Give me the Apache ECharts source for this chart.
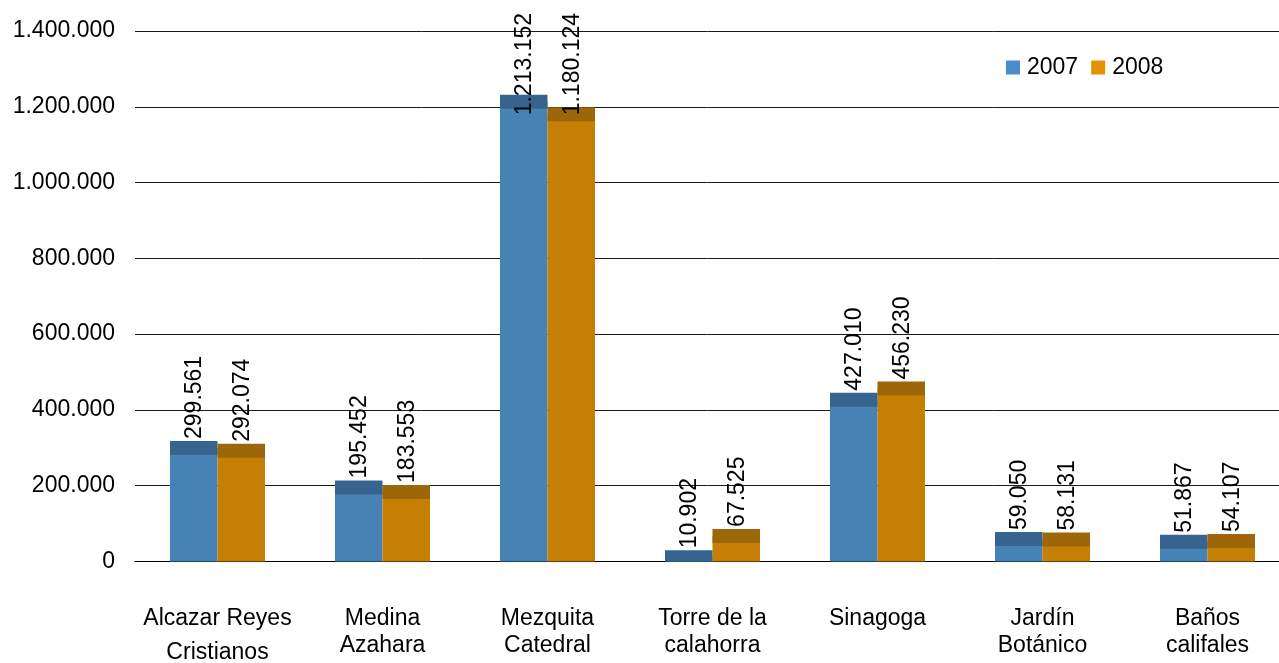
<!DOCTYPE html>
<html>
<head>
<meta charset="utf-8">
<script src="https://cdn.jsdelivr.net/npm/echarts@6/dist/echarts.min.js"></script>
<style>
  html, body { margin: 0; padding: 0; background: #ffffff; }
  #chart { width: 1279px; height: 663px; }
</style>
</head>
<body>
<div id="chart"></div>
<script>
// Visitors per monument, 2007 vs 2008
const categories = [
  'Alcazar Reyes\nCristianos',
  'Medina\nAzahara',
  'Mezquita\nCatedral',
  'Torre de la\ncalahorra',
  'Sinagoga',
  'Jardín\nBotánico',
  'Baños\ncalifales'
];
const years = ['2007', '2008'];
const visitors2007 = [299561, 195452, 1213152, 10902, 427010, 59050, 51867];
const visitors2008 = [292074, 183553, 1180124, 67525, 456230, 58131, 54107];
const yTicks = [0, 200000, 400000, 600000, 800000, 1000000, 1200000, 1400000];

const FONT = '"Liberation Sans", Arial, sans-serif';
const FONT_SIZE = 23;
const BAR_W = 47.5;
const CAP_HALF = 7;
const LABEL_TOP_LIMIT = 13;

const frontColors = ['#4682b4', '#c47f04'];
const capColors = ['#36648f', '#9d6609'];
const legendColors = ['#4a8dcc', '#e49200'];

// Spanish-style thousands separator
function fmt(n) {
  return String(Math.round(n)).replace(/\B(?=(\d{3})+(?!\d))/g, '.');
}

const measureCtx = document.createElement('canvas').getContext('2d');
measureCtx.font = FONT_SIZE + 'px ' + FONT;
function textWidth(t) { return measureCtx.measureText(t).width; }

// Dark top cap plus rotated value label for each bar
function capRenderer(seriesIdx) {
  return function (params, api) {
    const cat = api.value(0);
    const val = api.value(1);
    const top = api.coord([cat, val]);
    const base = api.coord([cat, 0]);
    const xLeft = seriesIdx === 0 ? top[0] - BAR_W : top[0];
    const y1 = top[1] - CAP_HALF;
    const y2 = Math.min(top[1] + CAP_HALF, base[1]);
    const label = fmt(val);
    let anchorY = top[1] - 9;
    const w = textWidth(label);
    if (anchorY - w < LABEL_TOP_LIMIT) anchorY = LABEL_TOP_LIMIT + w;
    return {
      type: 'group',
      children: [
        {
          type: 'rect',
          shape: { x: xLeft, y: y1, width: BAR_W, height: y2 - y1 },
          style: { fill: capColors[seriesIdx] }
        },
        {
          type: 'text',
          x: xLeft + BAR_W / 2 + 1,
          y: anchorY,
          rotation: Math.PI / 2,
          z2: 100,
          style: {
            text: label,
            fill: '#000000',
            fontSize: FONT_SIZE,
            fontFamily: FONT,
            align: 'left',
            verticalAlign: 'middle'
          }
        }
      ]
    };
  };
}

const seriesValues = [visitors2007, visitors2008];

const series = [];
years.forEach(function (y, i) {
  series.push({
    name: y,
    type: 'bar',
    barWidth: BAR_W,
    barGap: '0%',
    data: seriesValues[i],
    itemStyle: { color: frontColors[i] },
    emphasis: { disabled: true },
    z: 2
  });
});
years.forEach(function (y, i) {
  series.push({
    name: y + ' cap',
    type: 'custom',
    clip: false,
    z: 5,
    renderItem: capRenderer(i),
    data: seriesValues[i].map(function (v, k) { return [k, v]; }),
    emphasis: { disabled: true }
  });
});

const chart = echarts.init(document.getElementById('chart'), null, { renderer: 'canvas' });
chart.setOption({
  animation: false,
  backgroundColor: '#ffffff',
  textStyle: { fontFamily: FONT },
  legend: {
    left: 1001,
    top: 51,
    icon: 'rect',
    itemWidth: 14,
    itemHeight: 14,
    itemGap: 13,
    selectedMode: false,
    textStyle: { fontSize: FONT_SIZE, color: '#000000', fontFamily: FONT, padding: [0, 0, 0, 2] },
    data: years.map(function (y, i) {
      return { name: y, itemStyle: { color: legendColors[i] } };
    })
  },
  grid: { left: 135, top: 31, width: 1155, height: 530.5, outerBoundsMode: 'none', containLabel: false },
  xAxis: {
    type: 'category',
    data: categories,
    axisLine: { lineStyle: { color: '#000000', width: 1 } },
    axisTick: { show: false },
    axisLabel: {
      interval: 0,
      margin: 44,
      color: '#000000',
      fontSize: FONT_SIZE,
      fontFamily: FONT,
      lineHeight: 27,
      formatter: function (v) {
        const parts = v.split('\n');
        if (parts.length === 2 && v.indexOf('Cristianos') >= 0) {
          return '{a|' + parts[0] + '}\n{b|' + parts[1] + '}';
        }
        return v;
      },
      rich: {
        a: { fontSize: FONT_SIZE, fontFamily: FONT, color: '#000000', lineHeight: 27 },
        b: { fontSize: FONT_SIZE, fontFamily: FONT, color: '#000000', lineHeight: 41 }
      }
    }
  },
  yAxis: {
    type: 'value',
    min: yTicks[0],
    max: yTicks[yTicks.length - 1],
    interval: yTicks[1] - yTicks[0],
    axisLine: { show: false },
    axisTick: { show: false },
    splitLine: { lineStyle: { color: '#1a1a1a', width: 1 } },
    axisLabel: {
      margin: 20,
      color: '#000000',
      fontSize: FONT_SIZE,
      fontFamily: FONT,
      formatter: function (v) { return fmt(v); }
    }
  },
  series: series
});
</script>
</body>
</html>
